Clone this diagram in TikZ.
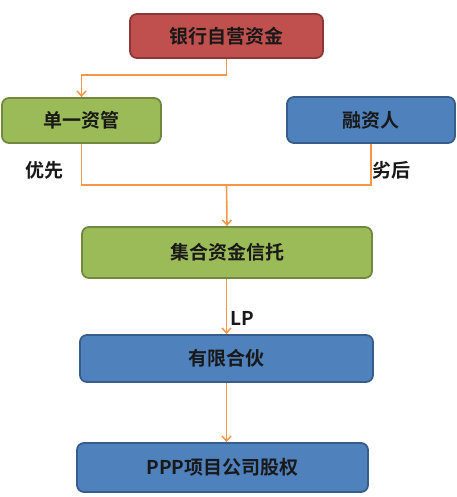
\documentclass[tikz,border=0pt]{standalone}
\usepackage{fontspec}
\newfontfamily\cjk{Noto Sans CJK SC}[BoldFont={Noto Sans CJK SC Bold}]
\usetikzlibrary{arrows.meta}
\definecolor{redfill}{HTML}{C0504D}
\definecolor{redline}{HTML}{8C3836}
\definecolor{greenfill}{HTML}{9BBB59}
\definecolor{greenline}{HTML}{71893F}
\definecolor{bluefill}{HTML}{4F81BD}
\definecolor{blueline}{HTML}{385D8A}
\definecolor{orangeline}{HTML}{F79646}
\begin{document}
\begin{tikzpicture}[x=1pt,y=-1pt,
  box/.style={draw, line width=1.8pt, rounded corners=7pt, font=\cjk\bfseries\fontsize{19}{19}\selectfont, text=black!90, inner sep=0pt},
  redbox/.style={box, fill=redfill, draw=redline},
  greenbox/.style={box, fill=greenfill, draw=greenline},
  bluebox/.style={box, fill=bluefill, draw=blueline},
  conn/.style={draw=orangeline, line width=1.6pt},
  arr/.style={conn, -{Straight Barb[length=5pt,width=9pt,line width=1.5pt]}},
  lbl/.style={font=\cjk\bfseries\fontsize{19}{19}\selectfont, text=black!90, inner sep=0pt}]
\useasboundingbox (0,0) rectangle (456,497);
\node[redbox, minimum width=193pt, minimum height=44pt] (bank) at (226.5,36) {银行自营资金};
\node[greenbox, minimum width=159pt, minimum height=45pt] (single) at (81.5,120.5) {单一资管};
\node[bluebox, minimum width=168pt, minimum height=46pt] (fin) at (371,120) {融资人};
\node[greenbox, minimum width=290pt, minimum height=51pt] (trust) at (227,252.5) {集合资金信托};
\node[bluebox, minimum width=293pt, minimum height=47pt] (lp) at (226.5,358.5) {有限合伙};
\node[bluebox, minimum width=291pt, minimum height=49pt] (ppp) at (222.5,467.5) {PPP项目公司股权};
\coordinate (j1) at (226.5,75);
\coordinate (j2) at (226.5,185);
\draw[arr] (bank.south) -- (j1) -| (single.north);
\draw[conn] (single.south) |- (j2) -| (fin.south);
\draw[arr] (j2) -- (trust.north);
\draw[arr] (trust.south -| lp.north) -- (lp.north);
\draw[arr] (lp.south) -- (lp.south |- ppp.north);
\node[lbl] (youxian) at (44.5,170) {优先};
\node[lbl] (liehou) at (391.5,170) {劣后};
\node[lbl] (lplabel) at (242,318) {LP};
\end{tikzpicture}
\end{document}
